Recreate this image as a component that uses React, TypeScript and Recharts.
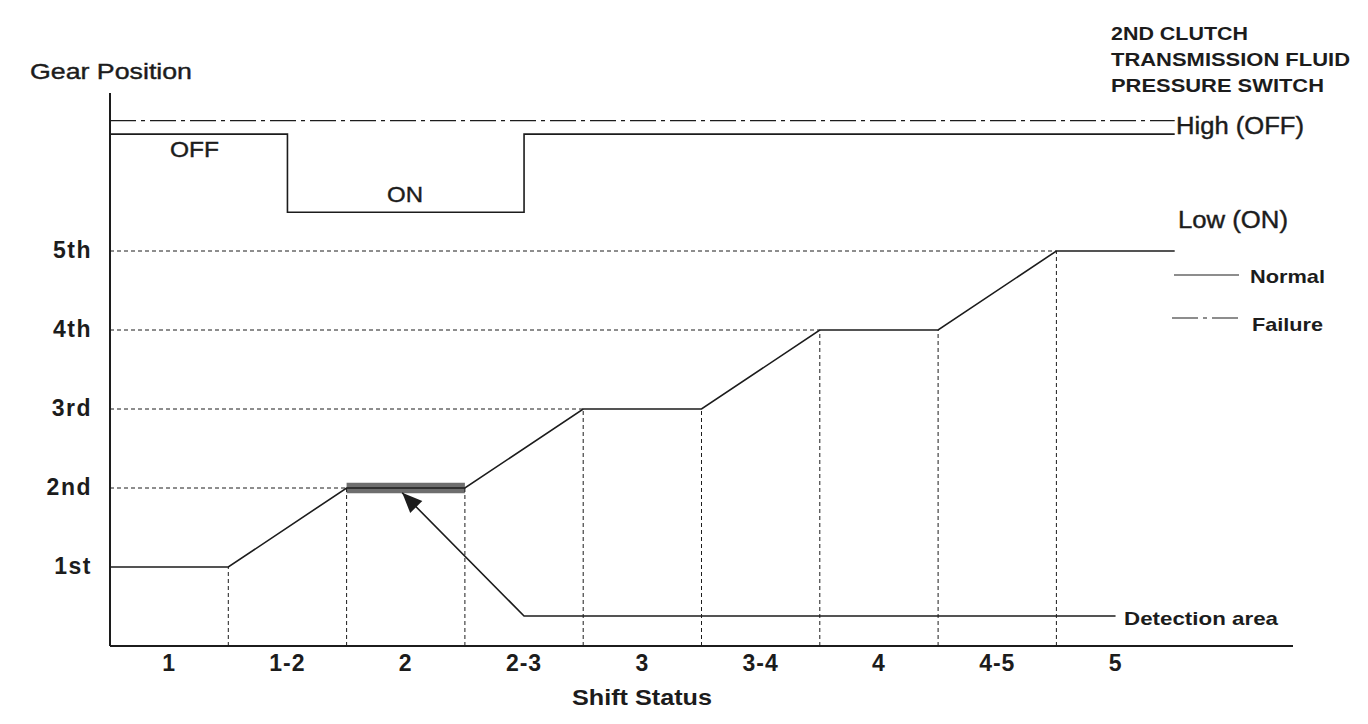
import { LineChart, Line, XAxis, YAxis, ReferenceLine, ReferenceArea } from 'recharts';

// x axis: one unit per shift status cell
const shiftLabels = ['1', '1-2', '2', '2-3', '3', '3-4', '4', '4-5', '5'];
const shiftTicks = [0.5, 1.5, 2.5, 3.5, 4.5, 5.5, 6.5, 7.5, 8.5];

const gearLabels = ['1st', '2nd', '3rd', '4th', '5th'];
const gearTicks = [1, 2, 3, 4, 5];

// normal gear position trace
const normalX = [0, 1, 2, 3, 4, 5, 6, 7, 8, 9];
const normalGear = [1, 1, 2, 2, 3, 3, 4, 4, 5, 5];

// 2nd clutch pressure switch (high = OFF, low = ON)
const switchX = [0, 1.5, 1.5, 3.5, 3.5, 9];
const switchLevel = [6.48, 6.48, 5.49, 5.49, 6.48, 6.48];

// failure trace (switch stays high)
const failureX = [0, 9];
const failureLevel = [6.65, 6.65];

// detection area leader + arrow
const detectX = [8.5, 3.5, 2.47];
const detectY = [0.38, 0.38, 1.94];

// dashed guides: horizontal [gear, x end], vertical [x, gear top]
const guideH = [[2, 2], [3, 4], [4, 6], [5, 8]];
const guideV = [[1, 1], [2, 2], [3, 2], [4, 3], [5, 3], [6, 4], [7, 4], [8, 5]];

const toPoints = (xs: number[], ys: number[]) => xs.map((x, i) => ({ x, y: ys[i] }));

const INK = '#1c1c1c';
const FONT = '"Liberation Sans", Arial, sans-serif';

const ArrowHead = (props: any) => {
  const { cx, cy, index, points } = props;
  if (index !== detectX.length - 1) return <g key={`d${index}`} />;
  let ux = -0.69;
  let uy = -0.72;
  const prev = points?.[index - 1];
  if (prev) {
    const dx = cx - prev.x;
    const dy = cy - prev.y;
    const len = Math.hypot(dx, dy) || 1;
    ux = dx / len;
    uy = dy / len;
  }
  const L = 20, W = 8.5;
  const bx = cx - ux * L, by = cy - uy * L;
  const nx = -uy, ny = ux;
  return (
    <polygon
      key="arrow"
      points={`${cx},${cy} ${bx + nx * W},${by + ny * W} ${bx - nx * W},${by - ny * W}`}
      fill={INK}
    />
  );
};

const XTick = (props: any) => {
  const { x, y, payload } = props;
  const i = shiftTicks.indexOf(payload.value);
  return (
    <text x={x} y={y + 25} textAnchor="middle" fontFamily={FONT} fontWeight="bold" fontSize={23}
      letterSpacing={1} fill={INK}>
      {shiftLabels[i]}
    </text>
  );
};

const YTick = (props: any) => {
  const { x, y, payload } = props;
  return (
    <text x={x - 18} y={y + 7} textAnchor="end" fontFamily={FONT} fontWeight="bold" fontSize={23}
      letterSpacing={1.5} fill={INK}>
      {gearLabels[payload.value - 1]}
    </text>
  );
};

const Txt = ({ x, y, w, size, bold, children }: any) => (
  <text
    x={x}
    y={y}
    textLength={w}
    lengthAdjust="spacingAndGlyphs"
    fontFamily={FONT}
    fontSize={size}
    fontWeight={bold ? 'bold' : 'normal'}
    fill={INK}
    stroke={bold ? 'none' : INK}
    strokeWidth={0.4}
  >
    {children}
  </text>
);

export default function App() {
  return (
    <div style={{ position: 'absolute', left: 0, top: 0, width: 1368, height: 724, background: '#fff' }}>
      <LineChart width={1368} height={724} margin={{ top: 93, right: 75, left: 0, bottom: 0 }}>
        <XAxis
          dataKey="x"
          type="number"
          domain={[0, 10]}
          ticks={shiftTicks}
          height={78}
          tickLine={false}
          tickSize={0}
          tickMargin={0}
          tick={<XTick />}
          axisLine={{ stroke: INK, strokeWidth: 2 }}
          allowDataOverflow
        />
        <YAxis
          dataKey="y"
          type="number"
          domain={[0, 7]}
          ticks={gearTicks}
          width={110}
          tickLine={false}
          tickSize={0}
          tickMargin={0}
          tick={<YTick />}
          axisLine={{ stroke: INK, strokeWidth: 2 }}
          allowDataOverflow
        />
        <ReferenceArea x1={2} x2={3} y1={1.935} y2={2.065} fill="#6e6e6e" fillOpacity={1} stroke="none" />
        {guideH.map(([g, to]) => (
          <ReferenceLine
            key={`h${g}`}
            segment={[{ x: 0, y: g }, { x: to, y: g }]}
            stroke={INK}
            strokeWidth={1}
            strokeDasharray="4 3"
          />
        ))}
        {guideV.map(([x, top]) => (
          <ReferenceLine
            key={`v${x}`}
            segment={[{ x, y: 0 }, { x, y: top }]}
            stroke={INK}
            strokeWidth={1}
            strokeDasharray="4 3"
          />
        ))}
        <Line
          data={toPoints(failureX, failureLevel)}
          dataKey="y"
          type="linear"
          stroke={INK}
          strokeWidth={1.2}
          strokeDasharray="26 5 4 5"
          dot={false}
          isAnimationActive={false}
        />
        <Line
          data={toPoints(switchX, switchLevel)}
          dataKey="y"
          type="linear"
          stroke={INK}
          strokeWidth={1.6}
          dot={false}
          isAnimationActive={false}
        />
        <Line
          data={toPoints(normalX, normalGear)}
          dataKey="y"
          type="linear"
          stroke={INK}
          strokeWidth={1.6}
          dot={false}
          isAnimationActive={false}
        />
        <Line
          data={toPoints(detectX, detectY)}
          dataKey="y"
          type="linear"
          stroke={INK}
          strokeWidth={1.6}
          dot={ArrowHead}
          isAnimationActive={false}
        />
      </LineChart>
      <svg
        width={1368}
        height={724}
        style={{ position: 'absolute', left: 0, top: 0, pointerEvents: 'none' }}
      >
        <Txt x={30} y={79} w={162} size={22}>Gear Position</Txt>
        <Txt x={1111} y={40} w={137} size={18.5} bold>2ND CLUTCH</Txt>
        <Txt x={1111} y={66} w={239} size={18.5} bold>TRANSMISSION FLUID</Txt>
        <Txt x={1111} y={92} w={213} size={18.5} bold>PRESSURE SWITCH</Txt>
        <Txt x={1176} y={134} w={128} size={23}>High (OFF)</Txt>
        <Txt x={1178} y={228} w={110} size={23}>Low (ON)</Txt>
        <Txt x={170} y={157} w={49} size={22}>OFF</Txt>
        <Txt x={387} y={202} w={36} size={22}>ON</Txt>
        <line x1={1174} y1={275} x2={1239} y2={275} stroke={INK} strokeWidth={1.2} />
        <Txt x={1250} y={283} w={75} size={19} bold>Normal</Txt>
        <line x1={1172} y1={318} x2={1239} y2={318} stroke={INK} strokeWidth={1.2} strokeDasharray="26 5 4 5" />
        <Txt x={1252} y={331} w={71} size={19} bold>Failure</Txt>
        <Txt x={1124} y={625} w={154} size={19} bold>Detection area</Txt>
        <Txt x={572} y={705} w={140} size={22} bold>Shift Status</Txt>
      </svg>
    </div>
  );
}
